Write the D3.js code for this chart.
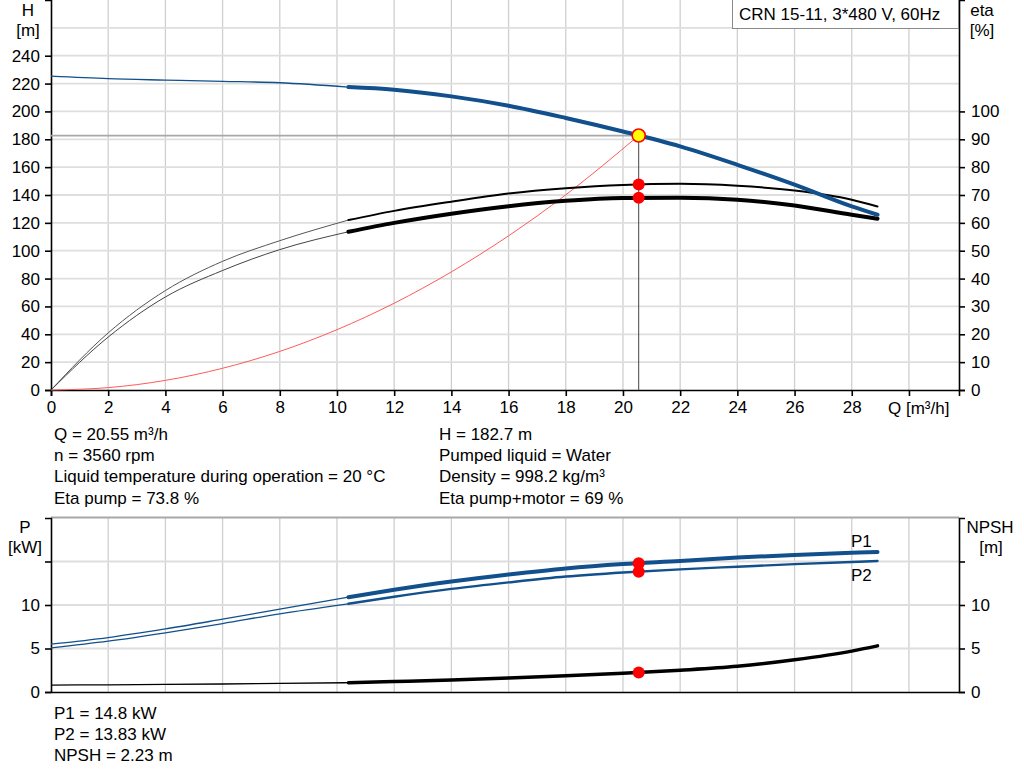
<!DOCTYPE html>
<html lang="en">
<head>
<meta charset="UTF-8">
<title>CRN 15-11 pump curves</title>
<script src="https://d3js.org/d3.v7.min.js"></script>
<style>
  body { margin: 0; background: #fff; }
  svg { display: block; font-family: Arial, "Liberation Sans", sans-serif; }
  .lbl { font-size: 17px; fill: #000; }
</style>
</head>
<body>
<svg id="chart" width="1024" height="781"></svg>
<script>
// flow points used by all pump curves [m3/h]
var qPts = [0, 2, 4, 6, 8, 10.4, 12, 14, 16, 18, 20, 22, 24, 26, 28, 28.9];
var headVals = [225.3, 223.5, 222.5, 221.6, 220.6, 217.5, 215.6, 210.8, 204.1, 195.3, 185.6, 174.9, 161.7, 147.4, 131.8, 125.8];
var etaPumpVals = [0, 20.5, 35.7, 46.2, 53.6, 61.0, 64.3, 67.6, 70.5, 72.4, 73.6, 74.0, 73.3, 71.6, 68.3, 65.9];
var etaTotalVals = [0, 19, 33.4, 42.9, 50.4, 56.8, 60.0, 63.3, 66.0, 67.9, 68.9, 69.0, 68.3, 66.2, 62.9, 61.5];
var p1Vals = [5.5, 6.26, 7.25, 8.37, 9.52, 10.9, 11.75, 12.7, 13.5, 14.2, 14.7, 15.05, 15.45, 15.75, 16.0, 16.1];
var p2Vals = [5.07, 5.84, 6.8, 7.87, 8.99, 10.14, 10.95, 11.85, 12.6, 13.27, 13.74, 14.1, 14.4, 14.7, 14.95, 15.05];
var npshVals = [0.8, 0.83, 0.87, 0.92, 0.98, 1.07, 1.2, 1.38, 1.6, 1.87, 2.15, 2.5, 2.95, 3.7, 4.7, 5.3];
var qSplit = 10.4; // below this the curves are drawn thin

// system curve (red)
var sysQ = [0, 2, 4, 6, 8, 10, 12, 14, 16, 18, 20.55];
var sysH = [0, 1.7, 6.9, 15.6, 27.7, 43.3, 62.3, 84.8, 110.7, 140.1, 182.7];

// duty point
var duty = { q: 20.55, h: 182.7, etaPump: 73.8, etaTotal: 69, p1: 14.8, p2: 13.83, npsh: 2.23 };

var qTicks = [0, 2, 4, 6, 8, 10, 12, 14, 16, 18, 20, 22, 24, 26, 28, 30];
var hTicks = [0, 20, 40, 60, 80, 100, 120, 140, 160, 180, 200, 220, 240];
var hGrid = [20, 40, 60, 80, 100, 120, 140, 160, 180, 200, 220, 240, 260];
var etaTicks = [0, 10, 20, 30, 40, 50, 60, 70, 80, 90, 100];
var pTicks = [0, 5, 10, 15];

var infoLeft = ["Q = 20.55 m\u00b3/h", "n = 3560 rpm", "Liquid temperature during operation = 20 \u00b0C", "Eta pump = 73.8 %"];
var infoRight = ["H = 182.7 m", "Pumped liquid = Water", "Density = 998.2 kg/m\u00b3", "Eta pump+motor = 69 %"];
var infoPower = ["P1 = 14.8 kW", "P2 = 13.83 kW", "NPSH = 2.23 m"];

var blue = '#11508c';
var svg = d3.select('#chart');

// scales
var x = d3.scaleLinear().domain([0, 31.75]).range([51, 959]);
var yH = d3.scaleLinear().domain([0, 280]).range([390, 0]);
var yEta = d3.scaleLinear().domain([0, 140]).range([390, 0]);
var yP = d3.scaleLinear().domain([0, 20]).range([692, 518]);

// ---------- grid ----------
function vGrid(y0, y1) {
    svg.append('g').selectAll('line').data(qTicks.slice(1)).enter().append('line')
        .attr('x1', function (d) { return x(d); }).attr('x2', function (d) { return x(d); })
        .attr('y1', y0).attr('y2', y1)
        .attr('stroke', '#cfcfcf').attr('stroke-width', 1.3);
}
vGrid(0, 390);
vGrid(518, 692);

svg.append('g').selectAll('line').data(hGrid).enter().append('line')
    .attr('x1', x(0)).attr('x2', x.range()[1])
    .attr('y1', function (d) { return yH(d); }).attr('y2', function (d) { return yH(d); })
    .attr('stroke', '#dedede').attr('stroke-width', 1.8);

svg.append('g').selectAll('line').data([5, 10, 15]).enter().append('line')
    .attr('x1', x(0)).attr('x2', x.range()[1])
    .attr('y1', function (d) { return yP(d); }).attr('y2', function (d) { return yP(d); })
    .attr('stroke', '#dedede').attr('stroke-width', 1.8);

// top border of the power panel
svg.append('line').attr('x1', x(0)).attr('x2', x.range()[1])
    .attr('y1', 517.5).attr('y2', 517.5).attr('stroke', '#a8a8a8').attr('stroke-width', 2);

// ---------- axes ----------
function styleAxis(g) {
    g.select('.domain').attr('stroke', '#000').attr('stroke-width', 1.6);
    g.selectAll('.tick line').attr('stroke', '#000').attr('stroke-width', 1.6);
    g.selectAll('.tick text').attr('font-family', 'Arial, "Liberation Sans", sans-serif').attr('font-size', 17).attr('fill', '#000');
}

svg.append('g').attr('transform', 'translate(0,390)')
    .call(d3.axisBottom(x).tickValues(qTicks).tickSizeOuter(0).tickSize(6).tickPadding(5)
        .tickFormat(function (d) { return d === 30 ? '' : d; }))
    .call(styleAxis);

svg.append('g').attr('transform', 'translate(51,0)')
    .call(d3.axisLeft(yH).tickValues(hTicks).tickSizeOuter(0).tickSize(6).tickPadding(5))
    .call(styleAxis);

svg.append('g').attr('transform', 'translate(959,0)')
    .call(d3.axisRight(yEta).tickValues(etaTicks).tickSizeOuter(0).tickSize(6).tickPadding(6))
    .call(styleAxis);

svg.append('g').attr('transform', 'translate(0,692)')
    .call(d3.axisBottom(x).tickValues([]).tickSizeOuter(0))
    .call(styleAxis);

svg.append('g').attr('transform', 'translate(51,0)')
    .call(d3.axisLeft(yP).tickValues(pTicks).tickSizeOuter(0).tickSize(6).tickPadding(5)
        .tickFormat(function (d) { return d === 15 ? '' : d; }))
    .call(styleAxis);

svg.append('g').attr('transform', 'translate(959,0)')
    .call(d3.axisRight(yP).tickValues(pTicks).tickSizeOuter(0).tickSize(6).tickPadding(6)
        .tickFormat(function (d) { return d === 15 ? '' : d; }))
    .call(styleAxis);

// ---------- curves ----------
function drawCurve(vals, yScale, color, thinW, thickW, thinColor) {
    var pts = qPts.map(function (q, i) { return [q, vals[i]]; });
    var line = d3.line()
        .x(function (d) { return x(d[0]); })
        .y(function (d) { return yScale(d[1]); })
        .curve(d3.curveMonotoneX);
    svg.append('path').datum(pts.filter(function (d) { return d[0] <= qSplit; }))
        .attr('d', line).attr('fill', 'none')
        .attr('stroke', thinColor || color).attr('stroke-width', thinW);
    svg.append('path').datum(pts.filter(function (d) { return d[0] >= qSplit; }))
        .attr('d', line).attr('fill', 'none')
        .attr('stroke', color).attr('stroke-width', thickW).attr('stroke-linecap', 'round');
}

// system curve
svg.append('path')
    .datum(sysQ.map(function (q, i) { return [q, sysH[i]]; }))
    .attr('d', d3.line().x(function (d) { return x(d[0]); }).y(function (d) { return yH(d[1]); }).curve(d3.curveMonotoneX))
    .attr('fill', 'none').attr('stroke', '#ff5a5a').attr('stroke-width', 1);

// duty lines
svg.append('line').attr('x1', x(0)).attr('x2', x(duty.q))
    .attr('y1', yH(duty.h)).attr('y2', yH(duty.h))
    .attr('stroke', '#a8a8a8').attr('stroke-width', 1.8);
svg.append('line').attr('x1', x(duty.q)).attr('x2', x(duty.q))
    .attr('y1', yH(duty.h)).attr('y2', 390)
    .attr('stroke', '#444').attr('stroke-width', 1);

drawCurve(etaPumpVals, yEta, '#000', 1, 2, '#555');
drawCurve(etaTotalVals, yEta, '#000', 1, 4, '#444');
drawCurve(headVals, yH, blue, 1.3, 4);

drawCurve(npshVals, yP, '#000', 1.3, 3.5);
drawCurve(p2Vals, yP, blue, 1.3, 2.4);
drawCurve(p1Vals, yP, blue, 1.3, 4);

// duty markers
var dots = [[yEta, duty.etaPump], [yEta, duty.etaTotal], [yP, duty.p1], [yP, duty.p2], [yP, duty.npsh]];
svg.append('g').selectAll('circle').data(dots).enter().append('circle')
    .attr('cx', x(duty.q))
    .attr('cy', function (d) { return d[0](d[1]); })
    .attr('r', 6).attr('fill', '#ff0000');

svg.append('circle').attr('cx', x(duty.q)).attr('cy', yH(duty.h)).attr('r', 6.5)
    .attr('fill', '#ffff00').attr('stroke', '#ff0000').attr('stroke-width', 1.6);

// ---------- labels ----------
function label(txt, xx, yy, anchor, color) {
    svg.append('text').attr('class', 'lbl').attr('x', xx).attr('y', yy)
        .attr('text-anchor', anchor || 'start').attr('fill', color || '#000').text(txt);
}

label('H', 28, 16, 'middle');
label('[m]', 28, 36, 'middle');
label('eta', 982, 16, 'middle');
label('[%]', 982, 36, 'middle');
label('Q [m\u00b3/h]', 888, 414);

label('P', 25, 533, 'middle');
label('[kW]', 25, 553, 'middle');
label('NPSH', 990, 533, 'middle');
label('[m]', 991, 553, 'middle');

label('P1', 851, 547, 'start', blue);
label('P2', 851, 581, 'start', blue);

// title box
svg.append('rect').attr('x', 732.5).attr('y', -1).attr('width', 226).attr('height', 29.5)
    .attr('fill', '#fff').attr('stroke', '#8a8a8a').attr('stroke-width', 1);
label('CRN 15-11, 3*480 V, 60Hz', 739, 19.5);

infoLeft.forEach(function (t, i) { label(t, 54, 439.5 + i * 21.4); });
infoRight.forEach(function (t, i) { label(t, 439, 439.5 + i * 21.4); });
infoPower.forEach(function (t, i) { label(t, 54, 718.5 + i * 21.4); });
</script>
</body>
</html>
